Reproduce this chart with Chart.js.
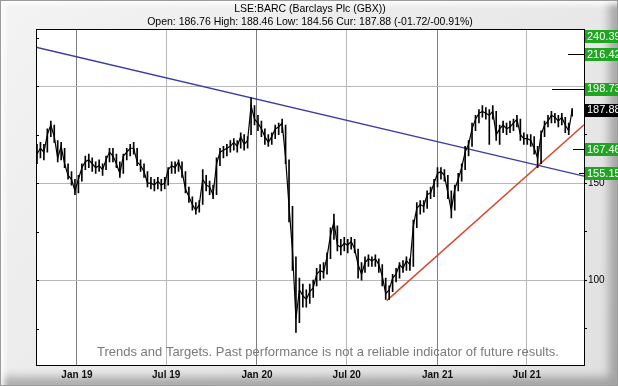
<!DOCTYPE html>
<html>
<head>
<meta charset="utf-8">
<script src="https://cdn.jsdelivr.net/npm/chart.js@4.4.1/dist/chart.umd.min.js"></script>
<style>
  html, body { margin: 0; padding: 0; background: #fff; }
  #frame {
    position: relative;
    width: 618px;
    height: 386px;
    background: linear-gradient(135deg, #f3f3f3 0%, #e8e8e8 60%, #e0e0e0 100%);
    box-shadow: inset 0 0 0 1px #9b9b9b, inset 4px 4px 6px #ffffff, inset -12px -12px 10px -3px rgba(0, 0, 0, 0.28);
  }
  canvas { position: absolute; left: 0; top: 0; }
</style>
</head>
<body>
<div id="frame"><canvas id="chart" width="618" height="386"></canvas></div>
<script>
// weekly bars, first one is the week ending 2018-10-12
const firstWeek = "2018-10-12";
const weekClose = [
  165, 168, 166, 175, 180, 174, 163, 169, 160, 154,
  152, 146, 152, 158, 161, 162, 160, 158, 159, 157,
  162, 166, 164, 160, 155, 164, 166, 168, 168, 161,
  159, 156, 150, 150, 149, 151, 149, 150, 157, 159,
  158, 161, 156, 147, 143, 139, 136, 139, 152, 149,
  148, 144, 160, 166, 167, 168, 169, 171, 169, 174,
  170, 172, 190, 183, 181, 178, 174, 171, 174, 178,
  179, 181, 163, 138, 115, 80, 95, 92, 90, 94,
  96, 103, 105, 104, 112, 123, 130, 118, 117, 119,
  118, 120, 116, 108, 103, 109, 111, 110, 111, 108,
  102, 93, 95, 101, 103, 108, 106, 110, 108, 128,
  137, 139, 138, 144, 145, 150, 155, 156, 154, 145,
  136, 147, 152, 158, 166, 170, 178, 183, 186, 187,
  186, 185, 187, 175, 178, 180, 178, 179, 181, 183,
  175, 173, 173, 172, 168, 163, 175, 180, 182, 185,
  184, 182, 184, 180, 177, 187.88,
];
const weekHigh = [
  170, 171, 170, 178, 182, 180, 172, 171, 168, 160,
  156, 152, 154, 160, 164, 165, 163, 161, 162, 160,
  164, 168, 168, 165, 161, 165, 168, 170, 171, 168,
  162, 160, 156, 153, 152, 153, 152, 153, 158, 161,
  161, 162, 161, 156, 148, 143, 140, 141, 157, 154,
  151, 149, 163, 168, 169, 170, 172, 173, 172, 176,
  175, 174, 194, 190, 185, 182, 178, 175, 176, 180,
  181, 183, 180, 162, 138, 112, 101, 98, 95, 98,
  100, 106, 108, 109, 114, 127, 134, 128, 121, 122,
  121, 122, 121, 116, 109, 112, 113, 112, 113, 111,
  108, 101, 97, 103, 106, 109, 110, 112, 111, 131,
  140, 141, 141, 146, 148, 152, 158, 158, 157, 154,
  146, 149, 155, 160, 169, 172, 181, 185, 188, 190,
  189, 188, 190, 187, 180, 182, 181, 182, 183, 185,
  183, 176, 175, 175, 174, 169, 177, 182, 185, 187,
  186, 185, 186, 184, 181, 188.46,
];
const weekLow = [
  160, 163, 162, 166, 174, 171, 161, 162, 158, 152,
  149, 144, 145, 151, 157, 158, 156, 155, 156, 154,
  157, 161, 161, 158, 153, 155, 162, 164, 165, 159,
  156, 153, 148, 147, 146, 147, 146, 147, 149, 155,
  155, 156, 153, 145, 140, 136, 134, 135, 139, 146,
  144, 142, 144, 159, 163, 164, 166, 167, 166, 168,
  167, 168, 175, 180, 177, 174, 170, 169, 170, 173,
  175, 176, 160, 130, 105, 73, 78, 86, 86, 88,
  91, 97, 100, 101, 103, 111, 121, 115, 113, 115,
  114, 116, 114, 101, 100, 104, 107, 107, 107, 104,
  97, 90, 90, 94, 99, 101, 104, 105, 105, 107,
  127, 134, 135, 137, 142, 143, 148, 152, 151, 142,
  132, 136, 146, 151, 157, 164, 169, 177, 181, 184,
  183, 170, 183, 172, 170, 176, 175, 176, 177, 179,
  172, 170, 170, 169, 165, 158, 160, 174, 179, 181,
  181, 179, 180, 176, 175, 184.56,
];

// trend lines [date, price]
const resistanceLine = [["2018-10-10", 220.1], ["2021-10-25", 153.6]];
const supportLine = [["2020-09-20", 89.4], ["2021-10-25", 180.1]];

// price targets on the right edge
const targets = [240.39, 216.42, 198.73, 167.46, 155.15];
const currentPrice = 187.88;

const tickDates = ["2019-01-01", "2019-07-01", "2020-01-01", "2020-07-01", "2021-01-01", "2021-07-01"];
const tickLabels = ["Jan 19", "Jul 19", "Jan 20", "Jul 20", "Jan 21", "Jul 21"];
const yTicks = [75, 100, 125, 150, 175, 200, 225];
const yLabelled = [100, 150];
const xStart = "2018-10-10";
const xEnd = "2021-10-25";
const yMin = 56.2;
const yMax = 229.4;

function dayNum(s) {
  const [y, m, d] = s.split("-").map(Number);
  return (Date.UTC(y, m - 1, d) - Date.UTC(2019, 0, 1)) / 864e5;
}

const weekDays = weekClose.map((_, i) => dayNum(firstWeek) + 7 * i);
const tickDays = tickDates.map(dayNum);
const FONT = "'Liberation Sans', Arial, sans-serif";

const overlay = {
  id: "overlay",
  beforeDraw(chart) {
    const { ctx, chartArea: a } = chart;
    ctx.save();
    ctx.fillStyle = "#fff";
    ctx.fillRect(a.left, a.top, a.right - a.left, a.bottom - a.top);
    ctx.restore();
  },
  beforeDatasetsDraw(chart) {
    const { ctx } = chart;
    ctx.save();
    ctx.font = "13px " + FONT;
    ctx.fillStyle = "#7a7a7a";
    ctx.textBaseline = "middle";
    ctx.fillText("Trends and Targets. Past performance is not a reliable indicator of future results.", 97, 352);
    ctx.restore();
  },
  afterDraw(chart, args, opts) {
    const { ctx, chartArea: a } = chart;
    const y = chart.scales.y;
    ctx.save();
    ctx.strokeStyle = "#000";
    ctx.lineWidth = 1;
    ctx.strokeRect(Math.round(a.left) + 0.5, Math.round(a.top) + 0.5, Math.round(a.right - a.left), Math.round(a.bottom - a.top));
    // small inner ticks on the left border
    yTicks.forEach((v) => {
      const py = Math.round(y.getPixelForValue(v)) + 0.5;
      ctx.beginPath();
      ctx.moveTo(a.left, py);
      ctx.lineTo(a.left + 3, py);
      ctx.stroke();
    });
    // target marker lines
    targets.forEach((v, i) => {
      const len = opts.markerLengths[i];
      if (!len || v > yMax) return;
      const py = Math.round(y.getPixelForValue(v)) + 0.5;
      ctx.beginPath();
      ctx.moveTo(a.right - len, py);
      ctx.lineTo(a.right, py);
      ctx.stroke();
    });
    ctx.font = "11px " + FONT;
    ctx.textBaseline = "middle";
    const box = (v, color) => {
      let py = y.getPixelForValue(v);
      py = Math.max(a.top + 7, Math.min(a.bottom - 7, py));
      ctx.fillStyle = color;
      ctx.fillRect(a.right + 1, Math.round(py - 6), 40, 13);
      ctx.fillStyle = "#fff";
      ctx.fillText(v.toFixed(2), a.right + 3, py + 0.5);
    };
    targets.forEach((v) => box(v, "#1fa51f"));
    box(currentPrice, "#000");
    ctx.restore();
  },
};

new Chart(document.getElementById("chart"), {
  type: "line",
  data: {
    datasets: [
      {
        data: weekDays.map((d, i) => ({ x: d, y: weekClose[i] })),
        borderColor: "#000",
        borderWidth: 1.2,
        pointRadius: 0,
        tension: 0,
      },
      {
        type: "bar",
        data: weekDays.map((d, i) => ({ x: d, y: [weekLow[i], weekHigh[i]] })),
        backgroundColor: "#000",
        barThickness: 1,
        grouped: false,
      },
      {
        data: resistanceLine.map(([d, v]) => ({ x: dayNum(d), y: v })),
        borderColor: "#3b3ba6",
        borderWidth: 1.4,
        pointRadius: 0,
      },
      {
        data: supportLine.map(([d, v]) => ({ x: dayNum(d), y: v })),
        borderColor: "#d8472b",
        borderWidth: 1.4,
        pointRadius: 0,
      },
    ],
  },
  options: {
    responsive: false,
    animation: false,
    devicePixelRatio: 1,
    layout: { padding: { left: 36, right: 0, top: 0, bottom: 0 } },
    plugins: {
      legend: { display: false },
      tooltip: { enabled: false },
      title: {
        display: true,
        fullSize: false,
        text: "LSE:BARC (Barclays Plc (GBX))",
        color: "#000",
        font: { family: FONT, size: 10.5, weight: "normal", lineHeight: 1.2 },
        padding: { top: 3, bottom: 0 },
      },
      subtitle: {
        display: true,
        fullSize: false,
        text: "Open: 186.76 High: 188.46 Low: 184.56 Cur: 187.88 (-01.72/-00.91%)",
        color: "#000",
        font: { family: FONT, size: 10.5, weight: "normal", lineHeight: 1.2 },
        padding: { top: 0, bottom: 1 },
      },
      overlay: { markerLengths: [0, 16, 32, 11, 5] },
    },
    scales: {
      x: {
        type: "linear",
        min: dayNum(xStart),
        max: dayNum(xEnd),
        offset: false,
        afterBuildTicks: (s) => { s.ticks = tickDays.map((v) => ({ value: v })); },
        afterFit: (s) => { s.height = 21; },
        grid: {
          offset: false,
          drawTicks: false,
          color: (c) => (c.index % 2 === 0 ? "#7f7f7f" : "#b8b8b8"),
        },
        border: { color: "#000" },
        ticks: {
          autoSkip: false,
          maxRotation: 0,
          padding: 4,
          color: "#111",
          font: { family: FONT, size: 10, weight: "bold" },
          callback: (v, i) => tickLabels[i],
        },
      },
      y: {
        position: "right",
        min: yMin,
        max: yMax,
        afterBuildTicks: (s) => { s.ticks = yTicks.map((v) => ({ value: v })); },
        afterFit: (s) => { s.width = 34; },
        grid: {
          color: (c) => (c.tick && c.tick.value % 50 === 0 ? "#b8b8b8" : "rgba(0,0,0,0)"),
          tickColor: "#000",
          tickLength: 3,
        },
        border: { color: "#000" },
        ticks: {
          padding: 1,
          color: "#000",
          font: { family: FONT, size: 10 },
          callback: (v) => (yLabelled.includes(v) ? String(v) : ""),
        },
      },
    },
  },
  plugins: [overlay],
});
</script>
</body>
</html>
